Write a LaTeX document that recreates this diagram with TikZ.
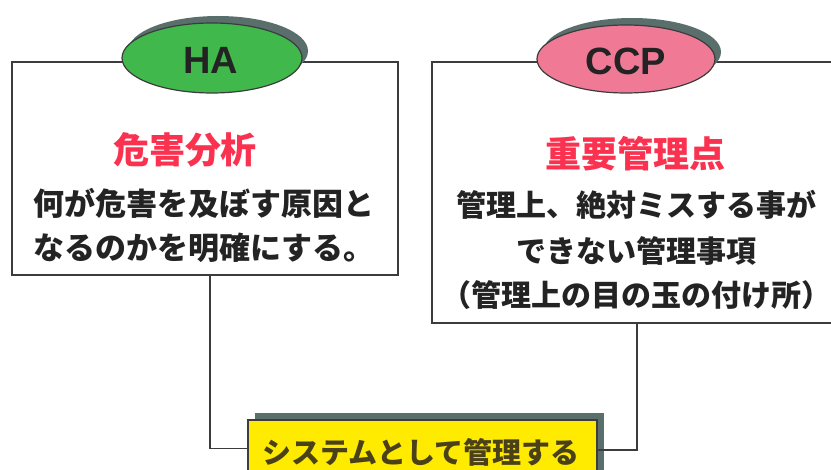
\documentclass[tikz,border=0pt]{standalone}
\usepackage{fontspec}
\usetikzlibrary{shadows,calc,shapes.geometric}
\newfontfamily\jp{Noto Sans CJK JP}
\newfontfamily\lat{Liberation Sans}
\definecolor{lineC}{RGB}{60,60,60}
\definecolor{greenC}{RGB}{64,184,76}
\definecolor{pinkC}{RGB}{240,122,150}
\definecolor{shadowC}{RGB}{90,110,108}
\definecolor{redT}{RGB}{250,50,80}
\definecolor{yellowC}{RGB}{255,235,0}
\definecolor{yellowT}{RGB}{75,65,25}
\definecolor{textC}{RGB}{35,35,35}
\begin{document}
\begin{tikzpicture}[x=1pt,y=-1pt,
  frame/.style={draw=lineC,line width=1.3pt,fill=white,rectangle,inner sep=0pt},
  oval/.style={ellipse,draw=lineC,line width=1.2pt,inner sep=0pt,
    general shadow={shadow xshift=6pt,shadow yshift=7pt,fill=shadowC}},
  ovaltext/.style={font=\lat\bfseries\fontsize{38}{42}\selectfont,text=textC},
  titletext/.style={font=\jp\bfseries\fontsize{36}{40}\selectfont,text=redT},
  bodytext/.style={font=\jp\bfseries\fontsize{30}{36}\selectfont,text=textC,inner sep=0pt},
  bodytextL/.style={font=\jp\bfseries\fontsize{31}{36}\selectfont,text=textC,inner sep=0pt},
  systext/.style={font=\jp\bfseries\fontsize{29}{34}\selectfont,text=yellowT,inner sep=0pt},
  link/.style={draw=lineC,line width=1.3pt}]
\useasboundingbox (0,0) rectangle (831,470);
\clip (0,0) rectangle (831,470);
\fill[white] (0,0) rectangle (831,470);
% boxes
\node[frame,minimum width=386pt,minimum height=213pt] (hbox) at (205,168.5) {};
\node[frame,minimum width=428pt,minimum height=261pt] (cbox) at (646,192.5) {};
% ovals
\node[oval,fill=greenC,minimum width=180pt,minimum height=70pt] (ha) at (212,58) {};
\node[ovaltext] (hat) at (211,60) {HA};
\node[oval,fill=pinkC,minimum width=178pt,minimum height=68pt] (ccp) at (626,59) {};
\node[ovaltext] (ccpt) at (626,61) {CCP};
% left texts
\node[titletext,inner sep=0pt] (h1) at (185,150) {危害分析};
\node[bodytextL,anchor=west] (h2) at (33,203) {何が危害を及ぼす原因と};
\node[bodytextL,anchor=west] (h3) at (33,248) {なるのかを明確にする。};
% right texts
\node[titletext,inner sep=0pt] (c1) at (635,154) {重要管理点};
\node[bodytext] (c2) at (636,205) {管理上、絶対ミスする事が};
\node[bodytext] (c3) at (636,251) {できない管理事項};
\node[bodytext] (c4) at (636,295) {（管理上の目の玉の付け所）};
% system box
\node[rectangle,draw=lineC,line width=1.3pt,fill=yellowC,minimum width=349pt,minimum height=57pt,
  general shadow={shadow xshift=7pt,shadow yshift=7pt,fill=shadowC}] (sys) at (422.5,448.5) {};
\node[systext] (syst) at (421,452) {システムとして管理する};
% connectors
\draw[link] ([xshift=5pt]hbox.south) |- (sys.west);
\draw[link] ([xshift=-9pt]cbox.south) |- ([yshift=-1.5pt]sys.east);
\end{tikzpicture}
\end{document}
